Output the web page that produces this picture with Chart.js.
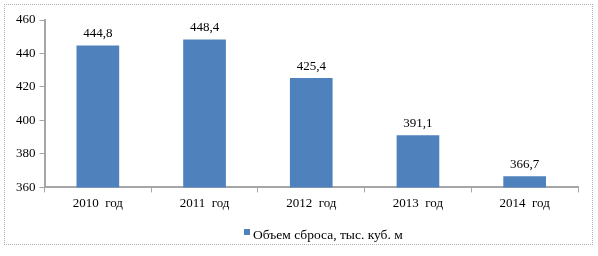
<!DOCTYPE html>
<html>
<head>
<meta charset="utf-8">
<script src="https://cdn.jsdelivr.net/npm/chart.js@4"></script>
<style>
  html, body { margin: 0; padding: 0; background: #fff; }
  #wrap { position: relative; width: 598px; height: 256px; }
  #frame { position: absolute; left: 4px; top: 4px; width: 587px; height: 239px; border: 1px dotted #b0b0b0; }
  canvas { position: absolute; left: 0; top: 0; }
</style>
</head>
<body>
<div id="wrap">
  <div id="frame"></div>
  <canvas id="chart" width="598" height="256"></canvas>
</div>
<script>
// годы
const years = ["2010  год", "2011  год", "2012  год", "2013  год", "2014  год"];
// объем сброса, тыс. куб. м
const volumes = [444.8, 448.4, 425.4, 391.1, 366.7];
const seriesName = "Объем сброса, тыс. куб. м";
const yMin = 360;
const yMax = 460;
const yStep = 20;

const barColor = "#4f81bd";
const axisColor = "#a6a6a6";
const fontFamily = "'Liberation Serif', 'DejaVu Serif', serif";

// подписи значений над столбцами
const valueLabels = {
    id: "valueLabels",
    afterDatasetsDraw(chart) {
        const ctx = chart.ctx;
        const meta = chart.getDatasetMeta(0);
        ctx.save();
        ctx.font = "13px " + fontFamily;
        ctx.fillStyle = "#000";
        ctx.textAlign = "center";
        ctx.textBaseline = "bottom";
        meta.data.forEach((bar, i) => {
            const txt = volumes[i].toFixed(1).replace(".", ",");
            ctx.fillText(txt, bar.x, bar.y - 5);
        });
        ctx.restore();
    }
};

// легенда внизу (рисуем сами, чтобы поставить как в оригинале)
const customLegend = {
    id: "customLegend",
    afterDraw(chart) {
        const ctx = chart.ctx;
        ctx.save();
        ctx.fillStyle = barColor;
        ctx.fillRect(244, 229, 6, 6);
        ctx.font = "13.5px " + fontFamily;
        ctx.fillStyle = "#000";
        ctx.textAlign = "left";
        ctx.textBaseline = "alphabetic";
        ctx.fillText(seriesName, 253, 239);
        ctx.restore();
    }
};

const ctx = document.getElementById("chart").getContext("2d");

let chart = new Chart(ctx, {
    type: "bar",
    data: {
        labels: years,
        datasets: [{
            label: seriesName,
            data: volumes,
            backgroundColor: barColor,
            borderWidth: 0,
            categoryPercentage: 1,
            barPercentage: 0.4
        }]
    },
    options: {
        responsive: false,
        animation: false,
        layout: { padding: { left: 12, right: 20, top: 20, bottom: 42 } },
        plugins: {
            legend: { display: false },
            tooltip: { enabled: false }
        },
        scales: {
            x: {
                grid: {
                    display: true,
                    drawOnChartArea: false,
                    drawTicks: true,
                    tickLength: 5,
                    color: axisColor,
                    offset: true
                },
                border: { color: axisColor, width: 2 },
                ticks: {
                    color: "#000",
                    padding: 3,
                    font: { family: fontFamily, size: 13 }
                }
            },
            y: {
                min: yMin,
                max: yMax,
                grid: {
                    display: true,
                    drawOnChartArea: false,
                    drawTicks: true,
                    tickLength: 5,
                    color: axisColor
                },
                border: { color: axisColor, width: 2 },
                ticks: {
                    stepSize: yStep,
                    color: "#000",
                    padding: 4,
                    font: { family: fontFamily, size: 13 }
                }
            }
        }
    },
    plugins: [valueLabels, customLegend]
});
</script>
</body>
</html>
